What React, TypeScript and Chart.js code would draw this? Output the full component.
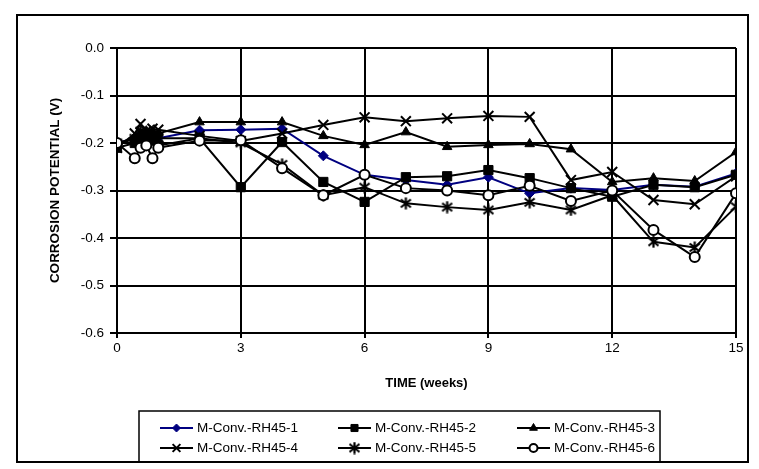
import React, { useEffect, useRef } from 'react';
import { Chart, registerables } from 'chart.js';
import { drawPoint } from 'chart.js/helpers';

Chart.register(...registerables);

// ---- data ----
const TIMES = [0, 0.43, 0.57, 0.71, 0.86, 1, 2, 3, 4, 5, 6, 7, 8, 9, 10, 11, 12, 13, 14, 15];
const SERIES_NAMES = [
  'M-Conv.-RH45-1',
  'M-Conv.-RH45-2',
  'M-Conv.-RH45-3',
  'M-Conv.-RH45-4',
  'M-Conv.-RH45-5',
  'M-Conv.-RH45-6',
];
const S1 = [-0.200, -0.190, -0.182, -0.180, -0.182, -0.190, -0.173, -0.172, -0.170, -0.227, -0.267, -0.278, -0.288, -0.272, -0.306, -0.295, -0.299, -0.288, -0.292, -0.264];
const S2 = [-0.210, -0.200, -0.190, -0.185, -0.195, -0.205, -0.190, -0.293, -0.198, -0.282, -0.324, -0.272, -0.270, -0.257, -0.274, -0.295, -0.313, -0.288, -0.293, -0.267];
const S3 = [-0.205, -0.190, -0.180, -0.175, -0.175, -0.180, -0.156, -0.156, -0.156, -0.185, -0.204, -0.177, -0.208, -0.204, -0.202, -0.213, -0.282, -0.274, -0.280, -0.219];
const S4 = [-0.210, -0.180, -0.160, -0.175, -0.170, -0.172, -0.185, -0.196, -0.180, -0.162, -0.146, -0.154, -0.148, -0.143, -0.145, -0.278, -0.261, -0.320, -0.329, -0.270];
const S5 = [-0.200, -0.190, -0.175, -0.180, -0.185, -0.190, -0.190, -0.200, -0.245, -0.310, -0.293, -0.327, -0.335, -0.341, -0.325, -0.341, -0.310, -0.408, -0.420, -0.334];
const S6 = [-0.200, -0.232, -0.210, -0.205, -0.232, -0.210, -0.195, -0.194, -0.253, -0.310, -0.267, -0.295, -0.300, -0.310, -0.290, -0.322, -0.300, -0.383, -0.440, -0.306];
const SERIES_VALUES = [S1, S2, S3, S4, S5, S6];

const X_TICKS_STEP = 3;
const Y_MIN = -0.6;
const Y_MAX = 0.0;
const Y_STEP = 0.1;
const X_TITLE = 'TIME (weeks)';
const Y_TITLE = 'CORROSION POTENTIAL (V)';

const FONT = 'Arial, "Liberation Sans", sans-serif';

function makeAsterisk(): HTMLCanvasElement {
  const c = document.createElement('canvas');
  c.width = 13;
  c.height = 13;
  const g = c.getContext('2d')!;
  g.strokeStyle = '#000';
  g.lineWidth = 2.2;
  g.beginPath();
  g.moveTo(1.5, 2.5); g.lineTo(11.5, 10.5);
  g.moveTo(11.5, 2.5); g.lineTo(1.5, 10.5);
  g.moveTo(6.5, 0.5); g.lineTo(6.5, 12.5);
  g.stroke();
  return c;
}

export default function App() {
  const ref = useRef<HTMLCanvasElement>(null);

  useEffect(() => {
    if (!ref.current) return;
    const asterisk = makeAsterisk();
    const styles: any[] = [
      { color: '#000080', pointStyle: 'rectRot', radius: 5, fill: '#000080', bw: 1 },
      { color: '#000', pointStyle: 'rect', radius: 6.5, fill: '#000', bw: 1 },
      { color: '#000', pointStyle: 'triangle', radius: 5.5, fill: '#000', bw: 1 },
      { color: '#000', pointStyle: 'crossRot', radius: 7, fill: '#000', bw: 2 },
      { color: '#000', pointStyle: asterisk, radius: 6, fill: '#000', bw: 2 },
      { color: '#000', pointStyle: 'circle', radius: 5, fill: '#fff', bw: 2 },
    ];

    const datasets = SERIES_VALUES.map((vals, i) => ({
      label: SERIES_NAMES[i],
      data: vals.map((v, j) => ({ x: TIMES[j], y: v })),
      borderColor: styles[i].color,
      backgroundColor: styles[i].fill,
      borderWidth: 2,
      pointStyle: styles[i].pointStyle,
      pointRadius: styles[i].radius,
      pointBorderWidth: styles[i].bw,
      pointBorderColor: styles[i].color,
      pointBackgroundColor: styles[i].fill,
      tension: 0,
      fill: false,
      order: 6 - i,
    }));

    const legendRadius = [4, 5, 4.5, 5.5, 6, 4];

    const decor = {
      id: 'decor',
      afterDraw(chart: any) {
        const ctx = chart.ctx as CanvasRenderingContext2D;
        const ca = chart.chartArea;
        ctx.save();
        // outer frame
        ctx.strokeStyle = '#000';
        ctx.lineWidth = 2;
        ctx.strokeRect(17, 15, 731, 447);
        // axis titles
        ctx.fillStyle = '#000';
        ctx.font = 'bold 13px ' + FONT;
        ctx.textAlign = 'center';
        ctx.textBaseline = 'middle';
        ctx.fillText(X_TITLE, (ca.left + ca.right) / 2, 383);
        ctx.save();
        ctx.translate(55, (ca.top + ca.bottom) / 2);
        ctx.rotate(-Math.PI / 2);
        ctx.font = 'bold 13.5px ' + FONT;
        ctx.fillText(Y_TITLE, 0, 0);
        ctx.restore();
        // legend
        ctx.lineWidth = 1.5;
        ctx.strokeRect(139, 411, 521, 51);
        const cols = [160, 338, 517];
        const rows = [428, 448];
        ctx.font = '13.5px ' + FONT;
        ctx.textAlign = 'left';
        chart.data.datasets.forEach((ds: any, i: number) => {
          const x = cols[i % 3];
          const y = rows[Math.floor(i / 3)];
          ctx.strokeStyle = ds.borderColor;
          ctx.lineWidth = 2;
          ctx.beginPath();
          ctx.moveTo(x, y);
          ctx.lineTo(x + 33, y);
          ctx.stroke();
          ctx.fillStyle = ds.pointBackgroundColor;
          ctx.strokeStyle = ds.pointBorderColor;
          ctx.lineWidth = ds.pointBorderWidth;
          drawPoint(ctx, {
            pointStyle: ds.pointStyle,
            rotation: 0,
            radius: legendRadius[i],
            borderWidth: ds.pointBorderWidth,
          } as any, x + 16.5, y);
          ctx.fillStyle = '#000';
          ctx.fillText(ds.label, x + 37, y + 0.5);
        });
        ctx.restore();
      },
    };

    const chart = new Chart(ref.current, {
      type: 'line',
      data: { datasets: datasets as any },
      options: {
        animation: false,
        responsive: false,
        devicePixelRatio: 1,
        layout: { padding: { left: 0, top: 48, right: 23, bottom: 0 } },
        plugins: { legend: { display: false }, tooltip: { enabled: false } },
        scales: {
          x: {
            type: 'linear',
            min: 0,
            max: 15,
            ticks: {
              stepSize: X_TICKS_STEP,
              color: '#000',
              font: { family: FONT, size: 13.5 },
              padding: 2,
              maxRotation: 0,
            },
            grid: { color: '#000', lineWidth: 2, tickLength: 5 },
            border: { color: '#000', width: 2 },
            afterFit: (s: any) => { s.height = 469 - 333; },
          },
          y: {
            min: Y_MIN,
            max: Y_MAX,
            ticks: {
              stepSize: Y_STEP,
              color: '#000',
              font: { family: FONT, size: 13.5 },
              padding: 6,
              callback: (v: any) => Number(v).toFixed(1),
            },
            grid: { color: '#000', lineWidth: 2, tickLength: 7 },
            border: { color: '#000', width: 2 },
            afterFit: (s: any) => { s.width = 117; },
          },
        },
      },
      plugins: [decor],
    });
    return () => chart.destroy();
  }, []);

  return (
    <div style={{ position: 'fixed', left: 0, top: 0, width: 759, height: 469, background: '#fff' }}>
      <canvas ref={ref} width={759} height={469} style={{ width: 759, height: 469, display: 'block' }} />
    </div>
  );
}
